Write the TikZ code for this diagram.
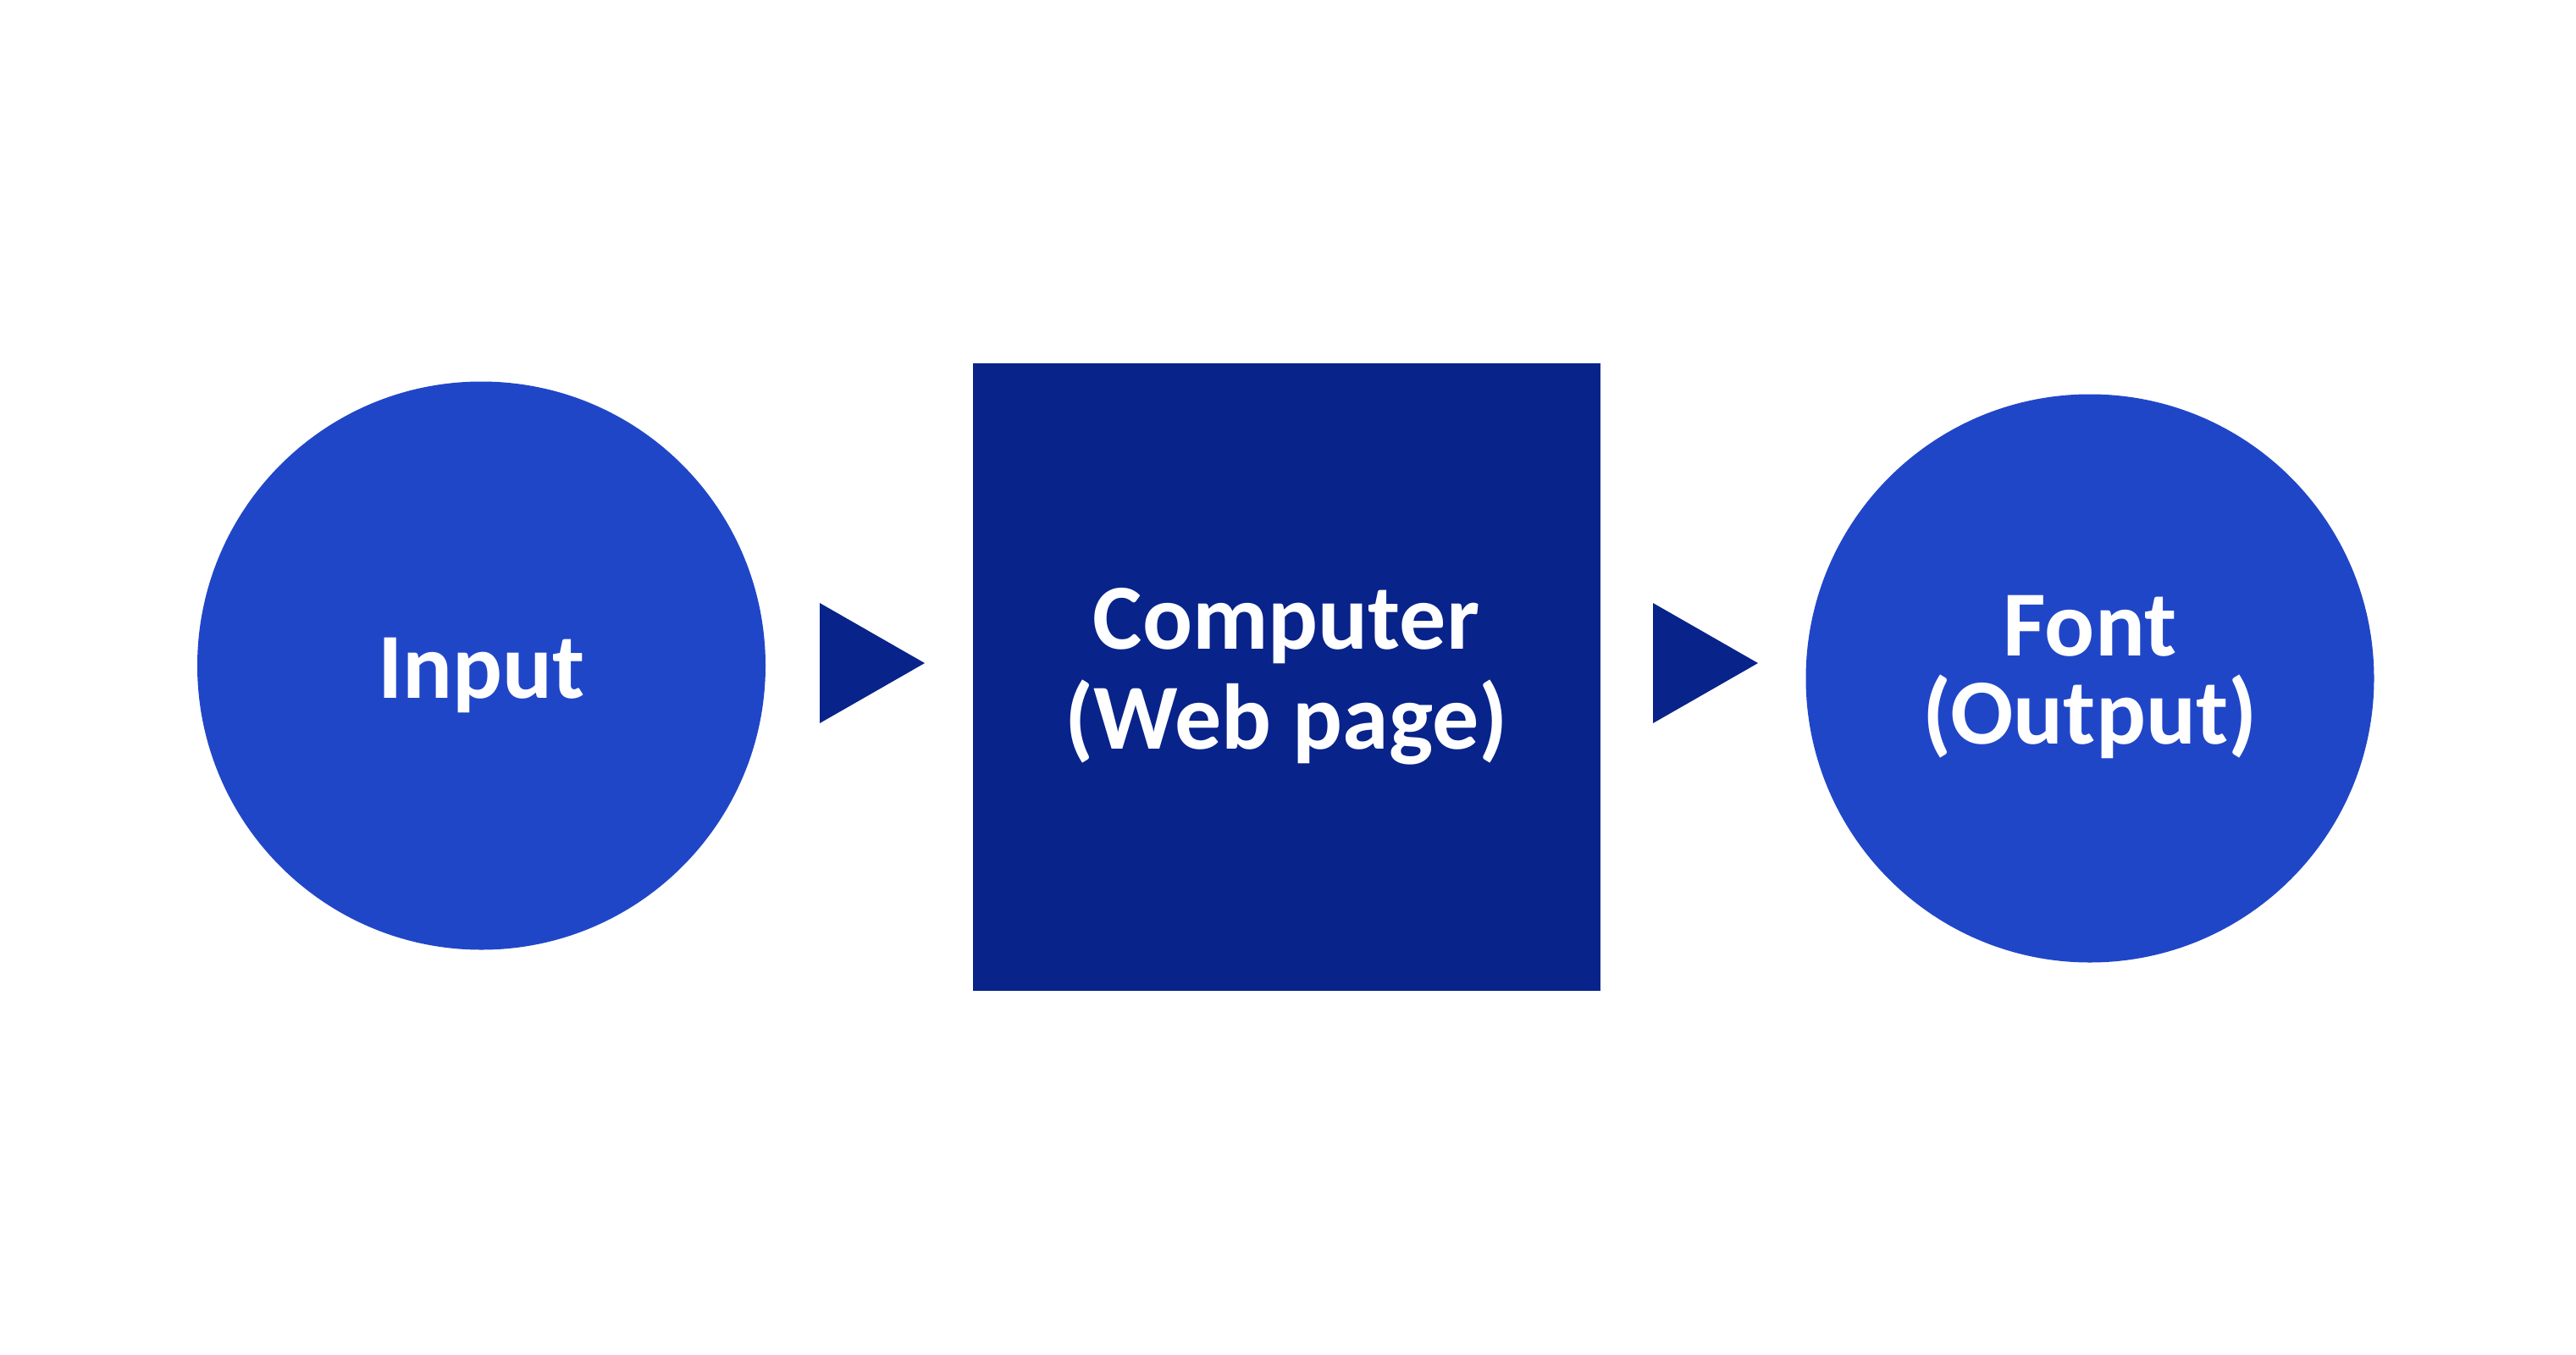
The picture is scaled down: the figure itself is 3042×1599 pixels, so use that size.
\documentclass[tikz,border=0pt]{standalone}
\usepackage{fontspec}
\setmainfont{Carlito}
\definecolor{circblue}{HTML}{2046C8}
\definecolor{boxblue}{HTML}{08238A}
\begin{document}
\begin{tikzpicture}[x=1pt,y=-1pt,
  lbl/.style={text=white,font=\fontsize{110}{119}\selectfont\bfseries,align=center,inner sep=0pt},
  circ/.style={circle,fill=circblue,minimum size=671pt,inner sep=0pt},
  sq/.style={fill=boxblue,minimum size=741pt,inner sep=0pt},
  tri/.style={fill=boxblue}]
\useasboundingbox (0,0) rectangle (3042,1599);
\node[circ] (in) at (568.5,786) {};
\node[sq] (comp) at (1519,799.5) {};
\node[circ] (out) at (2468,801) {};
\node[lbl] (tin) at (568.5,797) {Input};
\node[lbl,font=\fontsize{110}{118}\selectfont\bfseries] (tcomp) at (1519,799) {Computer\\(Web page)};
\node[lbl,font=\fontsize{110}{104}\selectfont\bfseries] (tout) at (2468,799) {Font\\(Output)};
\coordinate (a1) at (968,712);
\coordinate (a2) at (968,854);
\coordinate (a3) at (1092,783);
\coordinate (b1) at (1952,712);
\coordinate (b2) at (1952,854);
\coordinate (b3) at (2076,783);
\fill[tri] (a1) -- (a3) -- (a2) -- cycle;
\fill[tri] (b1) -- (b3) -- (b2) -- cycle;
\end{tikzpicture}
\end{document}
